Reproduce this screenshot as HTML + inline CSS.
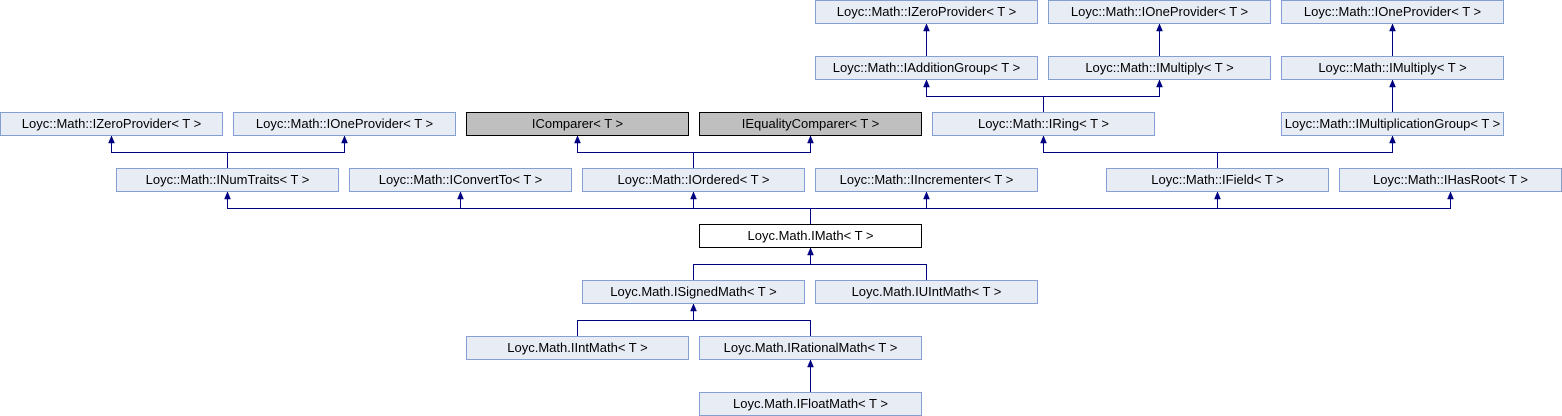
<!DOCTYPE html>
<html><head><meta charset="utf-8"><style>
html,body{margin:0;padding:0;background:#fff;}
svg{display:block;}
text{font-family:"Liberation Sans",sans-serif;font-size:13px;fill:#000;}
.b{fill:#E8ECF5;stroke:#84A0D0;stroke-width:1;}
.g{fill:#BFBFBF;stroke:#000;stroke-width:1;}
.w{fill:#fff;stroke:#000;stroke-width:1;}
.l{stroke:#000080;stroke-width:1;fill:none;}
.a{fill:#000080;stroke:#000080;stroke-width:0.5;}
</style></head><body>
<svg width="1562" height="416" viewBox="0 0 1562 416" xmlns="http://www.w3.org/2000/svg">
<g class="l">
<path d="M926.5 56V24M1159.5 56V24M1392.5 56V24"/>
<path d="M1043.5 112V96.5H926.5V80M1043.5 96.5H1159.5V80"/>
<path d="M1392.5 112V80"/>
<path d="M227.5 168V152.5H111.5V136M227.5 152.5H344.5V136"/>
<path d="M693.5 168V152.5H577.5V136M693.5 152.5H810.5V136"/>
<path d="M1217.5 168V152.5H1043.5V136M1217.5 152.5H1392.5V136"/>
<path d="M810.5 224V208.5H227.5V192M810.5 208.5H1450.5V192M460.5 208.5V192M693.5 208.5V192M926.5 208.5V192M1217.5 208.5V192"/>
<path d="M693.5 280V264.5H810.5V248M926.5 280V264.5H810.5"/>
<path d="M577.5 336V320.5H693.5V304M810.5 336V320.5H693.5"/>
<path d="M810.5 392V360"/>
</g>
<g class="a">
<polygon points="926.5,24 923.5,31 929.5,31"/>
<polygon points="1159.5,24 1156.5,31 1162.5,31"/>
<polygon points="1392.5,24 1389.5,31 1395.5,31"/>
<polygon points="926.5,80 923.5,87 929.5,87"/>
<polygon points="1159.5,80 1156.5,87 1162.5,87"/>
<polygon points="1392.5,80 1389.5,87 1395.5,87"/>
<polygon points="111.5,136 108.5,143 114.5,143"/>
<polygon points="344.5,136 341.5,143 347.5,143"/>
<polygon points="577.5,136 574.5,143 580.5,143"/>
<polygon points="810.5,136 807.5,143 813.5,143"/>
<polygon points="1043.5,136 1040.5,143 1046.5,143"/>
<polygon points="1392.5,136 1389.5,143 1395.5,143"/>
<polygon points="227.5,192 224.5,199 230.5,199"/>
<polygon points="460.5,192 457.5,199 463.5,199"/>
<polygon points="693.5,192 690.5,199 696.5,199"/>
<polygon points="926.5,192 923.5,199 929.5,199"/>
<polygon points="1217.5,192 1214.5,199 1220.5,199"/>
<polygon points="1450.5,192 1447.5,199 1453.5,199"/>
<polygon points="810.5,248 807.5,255 813.5,255"/>
<polygon points="693.5,304 690.5,311 696.5,311"/>
<polygon points="810.5,360 807.5,367 813.5,367"/>
</g>
<g>
<rect class="b" x="815.5" y="0.5" width="222" height="23"/><text x="926.5" y="16" text-anchor="middle">Loyc::Math::IZeroProvider&lt; T &gt;</text>
<rect class="b" x="1048.5" y="0.5" width="222" height="23"/><text x="1159.5" y="16" text-anchor="middle">Loyc::Math::IOneProvider&lt; T &gt;</text>
<rect class="b" x="1281.5" y="0.5" width="222" height="23"/><text x="1392.5" y="16" text-anchor="middle">Loyc::Math::IOneProvider&lt; T &gt;</text>

<rect class="b" x="815.5" y="56.5" width="222" height="23"/><text x="926.5" y="72" text-anchor="middle">Loyc::Math::IAdditionGroup&lt; T &gt;</text>
<rect class="b" x="1048.5" y="56.5" width="222" height="23"/><text x="1159.5" y="72" text-anchor="middle">Loyc::Math::IMultiply&lt; T &gt;</text>
<rect class="b" x="1281.5" y="56.5" width="222" height="23"/><text x="1392.5" y="72" text-anchor="middle">Loyc::Math::IMultiply&lt; T &gt;</text>

<rect class="b" x="0.5" y="112.5" width="222" height="23"/><text x="111.5" y="128" text-anchor="middle">Loyc::Math::IZeroProvider&lt; T &gt;</text>
<rect class="b" x="233.5" y="112.5" width="222" height="23"/><text x="344.5" y="128" text-anchor="middle">Loyc::Math::IOneProvider&lt; T &gt;</text>
<rect class="g" x="466.5" y="112.5" width="222" height="23"/><text x="577.5" y="128" text-anchor="middle">IComparer&lt; T &gt;</text>
<rect class="g" x="699.5" y="112.5" width="222" height="23"/><text x="810.5" y="128" text-anchor="middle">IEqualityComparer&lt; T &gt;</text>
<rect class="b" x="932.5" y="112.5" width="222" height="23"/><text x="1043.5" y="128" text-anchor="middle">Loyc::Math::IRing&lt; T &gt;</text>
<rect class="b" x="1281.5" y="112.5" width="222" height="23"/><text x="1392.5" y="128" text-anchor="middle">Loyc::Math::IMultiplicationGroup&lt; T &gt;</text>

<rect class="b" x="116.5" y="168.5" width="222" height="23"/><text x="227.5" y="184" text-anchor="middle">Loyc::Math::INumTraits&lt; T &gt;</text>
<rect class="b" x="349.5" y="168.5" width="222" height="23"/><text x="460.5" y="184" text-anchor="middle">Loyc::Math::IConvertTo&lt; T &gt;</text>
<rect class="b" x="582.5" y="168.5" width="222" height="23"/><text x="693.5" y="184" text-anchor="middle">Loyc::Math::IOrdered&lt; T &gt;</text>
<rect class="b" x="815.5" y="168.5" width="222" height="23"/><text x="926.5" y="184" text-anchor="middle">Loyc::Math::IIncrementer&lt; T &gt;</text>
<rect class="b" x="1106.5" y="168.5" width="222" height="23"/><text x="1217.5" y="184" text-anchor="middle">Loyc::Math::IField&lt; T &gt;</text>
<rect class="b" x="1339.5" y="168.5" width="222" height="23"/><text x="1450.5" y="184" text-anchor="middle">Loyc::Math::IHasRoot&lt; T &gt;</text>

<rect class="w" x="699.5" y="224.5" width="222" height="23"/><text x="810.5" y="240" text-anchor="middle">Loyc.Math.IMath&lt; T &gt;</text>

<rect class="b" x="582.5" y="280.5" width="222" height="23"/><text x="693.5" y="296" text-anchor="middle">Loyc.Math.ISignedMath&lt; T &gt;</text>
<rect class="b" x="815.5" y="280.5" width="222" height="23"/><text x="926.5" y="296" text-anchor="middle">Loyc.Math.IUIntMath&lt; T &gt;</text>

<rect class="b" x="466.5" y="336.5" width="222" height="23"/><text x="577.5" y="352" text-anchor="middle">Loyc.Math.IIntMath&lt; T &gt;</text>
<rect class="b" x="699.5" y="336.5" width="222" height="23"/><text x="810.5" y="352" text-anchor="middle">Loyc.Math.IRationalMath&lt; T &gt;</text>

<rect class="b" x="699.5" y="392.5" width="222" height="23"/><text x="810.5" y="408" text-anchor="middle">Loyc.Math.IFloatMath&lt; T &gt;</text>
</g>
</svg>
</body></html>
